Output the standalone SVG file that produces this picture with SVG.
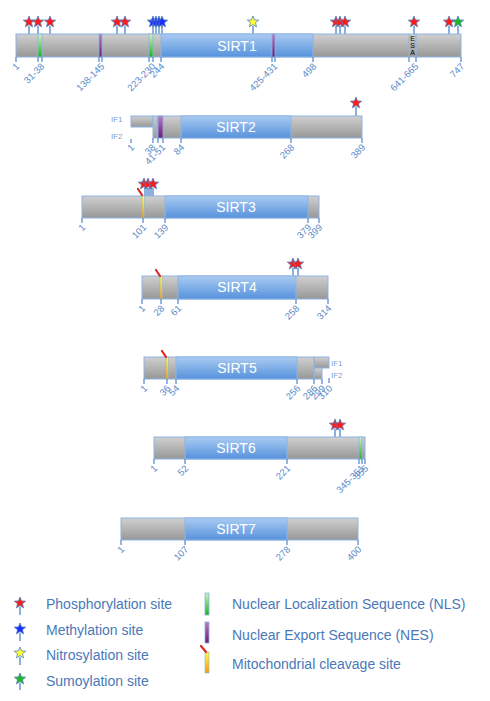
<svg xmlns="http://www.w3.org/2000/svg" width="490" height="701" viewBox="0 0 490 701">
<defs>
<linearGradient id="gGray" x1="0" y1="0" x2="0" y2="1"><stop offset="0" stop-color="#d0d0d0"/><stop offset="1" stop-color="#979797"/></linearGradient>
<linearGradient id="gBlue" x1="0" y1="0" x2="0" y2="1"><stop offset="0" stop-color="#aacbf2"/><stop offset="1" stop-color="#5692dc"/></linearGradient>
<linearGradient id="gGreen" x1="0" y1="0" x2="0" y2="1"><stop offset="0" stop-color="#d0f0c8"/><stop offset="1" stop-color="#18b418"/></linearGradient>
<linearGradient id="gPurple" x1="0" y1="0" x2="0" y2="1"><stop offset="0" stop-color="#b77cc0"/><stop offset="1" stop-color="#6a1a7a"/></linearGradient>
<linearGradient id="gYellow" x1="0" y1="0" x2="0" y2="1"><stop offset="0" stop-color="#ffff40"/><stop offset="1" stop-color="#ff9a00"/></linearGradient>
<path id="star" d="M0,-6 L1.53,-2.1 L5.71,-1.85 L2.47,0.8 L3.53,4.85 L0,2.6 L-3.53,4.85 L-2.47,0.8 L-5.71,-1.85 L-1.53,-2.1 Z"/>
</defs>
<style>
.g{fill:url(#gGray);stroke:#8db3e2;stroke-width:1}
.b{fill:url(#gBlue);stroke:#8db3e2;stroke-width:1}
.nls{fill:url(#gGreen);stroke:#8db3e2;stroke-width:0.8}
.nes{fill:url(#gPurple);stroke:#8db3e2;stroke-width:0.8}
.mito{fill:url(#gYellow);stroke:#8db3e2;stroke-width:0.6}
.sep{stroke:#8db3e2;stroke-width:1}
.tk{stroke:#5b8fd0;stroke-width:1.3}
.st{stroke:#5b8fd0;stroke-width:1.4}
.lbl{font-family:"Liberation Sans",Arial,sans-serif;font-size:9.5px;fill:#5b8ac8;text-anchor:end}
.nm{font-family:"Liberation Sans",Arial,sans-serif;font-size:14px;fill:#ffffff;text-anchor:middle}
.if{font-family:"Liberation Sans",Arial,sans-serif;font-size:8px;fill:#7f9fd0}
.esa{font-family:"Liberation Sans",Arial,sans-serif;font-size:7px;fill:#000000;writing-mode:vertical-rl;text-orientation:upright}
.leg{font-family:"Liberation Sans",Arial,sans-serif;font-size:14px;fill:#4a78b8}
.p{fill:#ff1a1a;stroke:#4f81bd;stroke-width:0.8}
.m{fill:#1a2cff;stroke:#4f81bd;stroke-width:0.8}
.n{fill:#ffff30;stroke:#4f81bd;stroke-width:0.8}
.s{fill:#1db81d;stroke:#4f81bd;stroke-width:0.8}
.cut{stroke:#e02828;stroke-width:2.2;stroke-linecap:round}
</style>
<rect width="490" height="701" fill="#ffffff"/>

<g id="SIRT1">
<line class="st" x1="29" y1="26" x2="29" y2="34"/><line class="st" x1="38" y1="26" x2="38" y2="34"/><line class="st" x1="50" y1="26" x2="50" y2="34"/>
<line class="st" x1="117" y1="26" x2="117" y2="34"/><line class="st" x1="125" y1="26" x2="125" y2="34"/>
<line class="st" x1="153" y1="26" x2="153" y2="34"/><line class="st" x1="156" y1="26" x2="156" y2="34"/><line class="st" x1="159" y1="26" x2="159" y2="34"/><line class="st" x1="162" y1="26" x2="162" y2="34"/>
<line class="st" x1="253" y1="26" x2="253" y2="34"/>
<line class="st" x1="336" y1="26" x2="336" y2="34"/><line class="st" x1="340" y1="26" x2="340" y2="34"/><line class="st" x1="345" y1="26" x2="345" y2="34"/>
<line class="st" x1="414" y1="26" x2="414" y2="34"/><line class="st" x1="449" y1="26" x2="449" y2="34"/><line class="st" x1="458" y1="26" x2="458" y2="34"/>
<use href="#star" class="p" x="29" y="22"/><use href="#star" class="p" x="38" y="22"/><use href="#star" class="p" x="50" y="22"/>
<use href="#star" class="p" x="117" y="22"/><use href="#star" class="p" x="125" y="22"/>
<use href="#star" class="m" x="153" y="22"/><use href="#star" class="m" x="156" y="22"/><use href="#star" class="m" x="159" y="22"/><use href="#star" class="m" x="162" y="22"/>
<use href="#star" class="n" x="253" y="22"/>
<use href="#star" class="p" x="336" y="22"/><use href="#star" class="p" x="340" y="22"/><use href="#star" class="p" x="345" y="22"/>
<use href="#star" class="p" x="414" y="22"/><use href="#star" class="p" x="449" y="22"/><use href="#star" class="s" x="458" y="22"/>
<rect class="g" x="16" y="34" width="445" height="23"/>
<rect class="b" x="161" y="34" width="152" height="23"/>
<rect class="nls" x="38" y="34" width="4" height="23"/>
<rect class="nes" x="99" y="34" width="3" height="23"/>
<rect class="nls" x="149" y="34" width="4" height="23"/>
<rect class="nes" x="272" y="34" width="3" height="23"/>
<line class="sep" x1="409" y1="34" x2="409" y2="57"/><line class="sep" x1="416" y1="34" x2="416" y2="57"/>
<text class="esa" x="412.5" y="35">ESA</text>
<text class="nm" x="237" y="51">SIRT1</text>
<line class="tk" x1="16" y1="57" x2="16" y2="62"/><line class="tk" x1="38" y1="57" x2="38" y2="62"/><line class="tk" x1="42" y1="57" x2="42" y2="62"/>
<line class="tk" x1="99" y1="57" x2="99" y2="62"/><line class="tk" x1="102" y1="57" x2="102" y2="62"/><line class="tk" x1="149" y1="57" x2="149" y2="62"/>
<line class="tk" x1="153" y1="57" x2="153" y2="62"/><line class="tk" x1="161" y1="57" x2="161" y2="62"/><line class="tk" x1="272" y1="57" x2="272" y2="62"/>
<line class="tk" x1="275" y1="57" x2="275" y2="62"/><line class="tk" x1="313" y1="57" x2="313" y2="62"/><line class="tk" x1="409" y1="57" x2="409" y2="62"/>
<line class="tk" x1="416" y1="57" x2="416" y2="62"/><line class="tk" x1="461" y1="57" x2="461" y2="62"/>
<text class="lbl" transform="translate(20,67) rotate(-45)">1</text>
<text class="lbl" transform="translate(45,67) rotate(-45)">31-38</text>
<text class="lbl" transform="translate(105,67) rotate(-45)">138-145</text>
<text class="lbl" transform="translate(156,67) rotate(-45)">223-230</text>
<text class="lbl" transform="translate(165,67) rotate(-45)">244</text>
<text class="lbl" transform="translate(278,67) rotate(-45)">425-431</text>
<text class="lbl" transform="translate(317,67) rotate(-45)">498</text>
<text class="lbl" transform="translate(419,67) rotate(-45)">641-665</text>
<text class="lbl" transform="translate(465,67) rotate(-45)">747</text>
</g>

<g id="SIRT2">
<line class="st" x1="356" y1="107" x2="356" y2="116"/>
<use href="#star" class="p" x="356" y="103"/>
<rect class="g" x="131" y="116" width="22" height="11"/>
<rect class="g" x="153" y="116" width="209" height="22"/>
<line class="sep" x1="157" y1="116" x2="157" y2="138"/>
<rect class="nes" x="158" y="116" width="5" height="22"/>
<rect class="b" x="181" y="116" width="110" height="22"/>
<text class="nm" x="236" y="132">SIRT2</text>
<text class="if" x="111" y="122">IF1</text><text class="if" x="111" y="139">IF2</text>
<line class="tk" x1="131" y1="139" x2="131" y2="143"/><line class="tk" x1="153" y1="138" x2="153" y2="143"/><line class="tk" x1="158" y1="138" x2="158" y2="143"/>
<line class="tk" x1="163" y1="138" x2="163" y2="143"/><line class="tk" x1="181" y1="138" x2="181" y2="143"/><line class="tk" x1="291" y1="138" x2="291" y2="143"/><line class="tk" x1="362" y1="138" x2="362" y2="143"/>
<text class="lbl" transform="translate(135,148) rotate(-45)">1</text>
<text class="lbl" transform="translate(156,148) rotate(-45)">38</text>
<text class="lbl" transform="translate(166,148) rotate(-45)">41-51</text>
<text class="lbl" transform="translate(185,148) rotate(-45)">84</text>
<text class="lbl" transform="translate(295,148) rotate(-45)">268</text>
<text class="lbl" transform="translate(366,148) rotate(-45)">389</text>
</g>

<g id="SIRT3">
<line class="st" x1="145" y1="188" x2="145" y2="196"/><line class="st" x1="147" y1="188" x2="147" y2="196"/><line class="st" x1="149" y1="188" x2="149" y2="196"/><line class="st" x1="151" y1="188" x2="151" y2="196"/><line class="st" x1="153" y1="188" x2="153" y2="196"/>
<use href="#star" class="p" x="144" y="184"/><use href="#star" class="p" x="148" y="184"/><use href="#star" class="p" x="153" y="184"/>
<rect class="g" x="82" y="196" width="237" height="22"/>
<rect class="b" x="165" y="196" width="143" height="22"/>
<rect class="mito" x="142" y="196" width="2.5" height="22"/>
<line class="cut" x1="138" y1="189" x2="142" y2="195"/>
<text class="nm" x="236" y="212">SIRT3</text>
<line class="tk" x1="82" y1="218" x2="82" y2="223"/><line class="tk" x1="143" y1="218" x2="143" y2="223"/><line class="tk" x1="165" y1="218" x2="165" y2="223"/><line class="tk" x1="308" y1="218" x2="308" y2="223"/><line class="tk" x1="319" y1="218" x2="319" y2="223"/>
<text class="lbl" transform="translate(86,228) rotate(-45)">1</text>
<text class="lbl" transform="translate(147,228) rotate(-45)">101</text>
<text class="lbl" transform="translate(169,228) rotate(-45)">139</text>
<text class="lbl" transform="translate(312,228) rotate(-45)">379</text>
<text class="lbl" transform="translate(323,228) rotate(-45)">399</text>
</g>

<g id="SIRT4">
<line class="st" x1="293" y1="268" x2="293" y2="276"/><line class="st" x1="298" y1="268" x2="298" y2="276"/>
<use href="#star" class="p" x="293" y="264"/><use href="#star" class="p" x="298" y="264"/>
<rect class="g" x="142" y="276" width="186" height="23"/>
<rect class="b" x="178" y="276" width="118" height="23"/>
<rect class="mito" x="160" y="276" width="2.5" height="23"/>
<line class="cut" x1="156" y1="270" x2="160" y2="276"/>
<text class="nm" x="237" y="292">SIRT4</text>
<line class="tk" x1="142" y1="299" x2="142" y2="304"/><line class="tk" x1="161" y1="299" x2="161" y2="304"/><line class="tk" x1="178" y1="299" x2="178" y2="304"/><line class="tk" x1="296" y1="299" x2="296" y2="304"/><line class="tk" x1="328" y1="299" x2="328" y2="304"/>
<text class="lbl" transform="translate(146,309) rotate(-45)">1</text>
<text class="lbl" transform="translate(165,309) rotate(-45)">28</text>
<text class="lbl" transform="translate(182,309) rotate(-45)">61</text>
<text class="lbl" transform="translate(300,309) rotate(-45)">258</text>
<text class="lbl" transform="translate(332,309) rotate(-45)">314</text>
</g>

<g id="SIRT5">
<rect class="g" x="314" y="357" width="15" height="11"/>
<rect class="g" x="314" y="368" width="8" height="11"/>
<rect class="g" x="144" y="357" width="170" height="22"/>
<rect class="b" x="176" y="357" width="121" height="22"/>
<rect class="mito" x="166" y="357" width="2.5" height="22"/>
<line class="cut" x1="162" y1="351" x2="166" y2="357"/>
<text class="nm" x="237" y="373">SIRT5</text>
<text class="if" x="331" y="366">IF1</text><text class="if" x="331" y="378">IF2</text>
<line class="tk" x1="144" y1="379" x2="144" y2="384"/><line class="tk" x1="167" y1="379" x2="167" y2="384"/><line class="tk" x1="176" y1="379" x2="176" y2="384"/>
<line class="tk" x1="297" y1="379" x2="297" y2="384"/><line class="tk" x1="314" y1="379" x2="314" y2="384"/><line class="tk" x1="322" y1="379" x2="322" y2="384"/><line class="tk" x1="329" y1="378" x2="329" y2="383"/>
<text class="lbl" transform="translate(148,389) rotate(-45)">1</text>
<text class="lbl" transform="translate(171,389) rotate(-45)">36</text>
<text class="lbl" transform="translate(180,389) rotate(-45)">54</text>
<text class="lbl" transform="translate(301,389) rotate(-45)">256</text>
<text class="lbl" transform="translate(318,389) rotate(-45)">286</text>
<text class="lbl" transform="translate(326,389) rotate(-45)">299</text>
<text class="lbl" transform="translate(333,389) rotate(-45)">310</text>
</g>

<g id="SIRT6">
<line class="st" x1="335" y1="429" x2="335" y2="437"/><line class="st" x1="340" y1="429" x2="340" y2="437"/>
<use href="#star" class="p" x="335" y="425"/><use href="#star" class="p" x="340" y="425"/>
<rect class="g" x="154" y="437" width="211" height="22"/>
<rect class="b" x="185" y="437" width="102" height="22"/>
<rect class="nls" x="359" y="437" width="3" height="22"/>
<text class="nm" x="236" y="453">SIRT6</text>
<line class="tk" x1="154" y1="459" x2="154" y2="464"/><line class="tk" x1="185" y1="459" x2="185" y2="464"/><line class="tk" x1="287" y1="459" x2="287" y2="464"/>
<line class="tk" x1="359" y1="459" x2="359" y2="464"/><line class="tk" x1="362" y1="459" x2="362" y2="464"/><line class="tk" x1="365" y1="459" x2="365" y2="464"/>
<text class="lbl" transform="translate(158,469) rotate(-45)">1</text>
<text class="lbl" transform="translate(189,469) rotate(-45)">52</text>
<text class="lbl" transform="translate(291,469) rotate(-45)">221</text>
<text class="lbl" transform="translate(365,469) rotate(-45)">345-351</text>
<text class="lbl" transform="translate(369,469) rotate(-45)">355</text>
</g>

<g id="SIRT7">
<rect class="g" x="121" y="518" width="237" height="22"/>
<rect class="b" x="185" y="518" width="102" height="22"/>
<text class="nm" x="236" y="534">SIRT7</text>
<line class="tk" x1="121" y1="540" x2="121" y2="545"/><line class="tk" x1="185" y1="540" x2="185" y2="545"/><line class="tk" x1="287" y1="540" x2="287" y2="545"/><line class="tk" x1="358" y1="540" x2="358" y2="545"/>
<text class="lbl" transform="translate(125,550) rotate(-45)">1</text>
<text class="lbl" transform="translate(189,550) rotate(-45)">107</text>
<text class="lbl" transform="translate(291,550) rotate(-45)">278</text>
<text class="lbl" transform="translate(362,550) rotate(-45)">400</text>
</g>

<g id="legend">
<line class="st" x1="20" y1="607" x2="20" y2="615"/><use href="#star" class="p" x="20" y="603"/>
<line class="st" x1="20" y1="633" x2="20" y2="641"/><use href="#star" class="m" x="20" y="629"/>
<line class="st" x1="20" y1="657" x2="20" y2="665"/><use href="#star" class="n" x="20" y="653"/>
<line class="st" x1="20" y1="683" x2="20" y2="690"/><use href="#star" class="s" x="20" y="679"/>
<text class="leg" x="46" y="609">Phosphorylation site</text>
<text class="leg" x="46" y="635">Methylation site</text>
<text class="leg" x="46" y="660">Nitrosylation site</text>
<text class="leg" x="46" y="686">Sumoylation site</text>
<rect class="nls" x="205" y="593" width="4" height="22"/>
<rect class="nes" x="205" y="622" width="4" height="21"/>
<rect class="mito" x="205" y="652" width="4" height="21"/>
<line class="cut" x1="201" y1="646" x2="206" y2="652"/>
<text class="leg" x="232" y="609">Nuclear Localization Sequence (NLS)</text>
<text class="leg" x="232" y="640">Nuclear Export Sequence (NES)</text>
<text class="leg" x="232" y="669">Mitochondrial cleavage site</text>
</g>
</svg>
